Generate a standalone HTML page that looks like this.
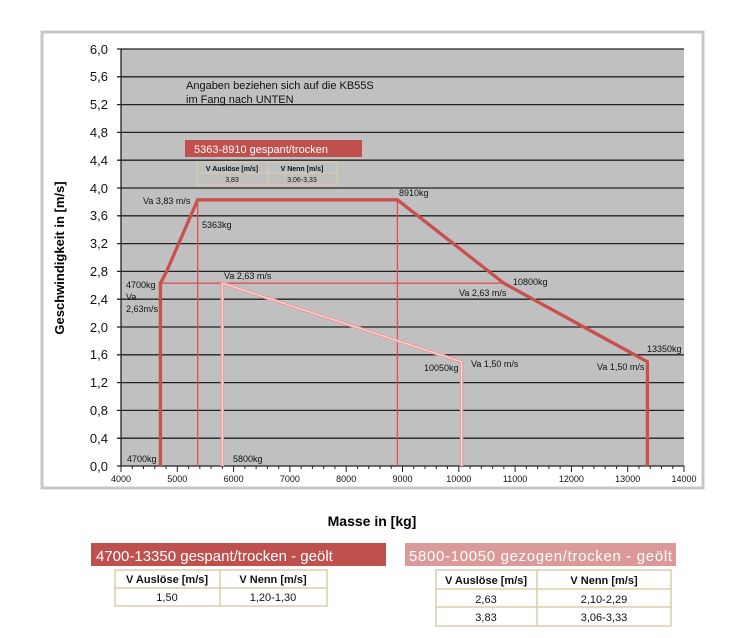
<!DOCTYPE html>
<html><head><meta charset="utf-8"><style>
body{margin:0;background:#fff;width:744px;height:638px;overflow:hidden;font-family:"Liberation Sans",sans-serif}
svg{position:absolute;left:0;top:0}
</style></head><body>
<svg width="744" height="638" viewBox="0 0 744 638" font-family="Liberation Sans, sans-serif">
<rect x="42" y="32" width="661" height="456" fill="#fff" stroke="#c8c8c8" stroke-width="3"/>
<rect x="121" y="49" width="563" height="417" fill="#c0c0c0"/>
<g stroke="#222" stroke-width="1.3">
<line x1="117" y1="466" x2="684" y2="466"/>
<line x1="117" y1="438.2" x2="684" y2="438.2"/>
<line x1="117" y1="410.4" x2="684" y2="410.4"/>
<line x1="117" y1="382.6" x2="684" y2="382.6"/>
<line x1="117" y1="354.8" x2="684" y2="354.8"/>
<line x1="117" y1="327" x2="684" y2="327"/>
<line x1="117" y1="299.2" x2="684" y2="299.2"/>
<line x1="117" y1="271.4" x2="684" y2="271.4"/>
<line x1="117" y1="243.6" x2="684" y2="243.6"/>
<line x1="117" y1="215.8" x2="684" y2="215.8"/>
<line x1="117" y1="188" x2="684" y2="188"/>
<line x1="117" y1="160.2" x2="684" y2="160.2"/>
<line x1="117" y1="132.4" x2="684" y2="132.4"/>
<line x1="117" y1="104.6" x2="684" y2="104.6"/>
<line x1="117" y1="76.8" x2="684" y2="76.8"/>
<line x1="117" y1="49" x2="684" y2="49"/>
<line x1="121" y1="49" x2="121" y2="466"/>
</g>
<g stroke="#222" stroke-width="1" id="ticks"></g>
<g font-size="13" text-anchor="end" fill="#111">
<text x="108" y="471">0,0</text><text x="108" y="443">0,4</text><text x="108" y="415">0,8</text><text x="108" y="387">1,2</text><text x="108" y="359">1,6</text><text x="108" y="332">2,0</text><text x="108" y="304">2,4</text><text x="108" y="276">2,8</text><text x="108" y="248">3,2</text><text x="108" y="220">3,6</text><text x="108" y="193">4,0</text><text x="108" y="165">4,4</text><text x="108" y="137">4,8</text><text x="108" y="109">5,2</text><text x="108" y="81">5,6</text><text x="108" y="54">6,0</text>
</g>
<g font-size="9" text-anchor="middle" fill="#111">
<text x="121" y="482">4000</text><text x="177.3" y="482">5000</text><text x="233.6" y="482">6000</text><text x="289.9" y="482">7000</text><text x="346.2" y="482">8000</text><text x="402.5" y="482">9000</text><text x="458.8" y="482">10000</text><text x="515.1" y="482">11000</text><text x="571.4" y="482">12000</text><text x="627.7" y="482">13000</text><text x="684" y="482">14000</text>
</g>
<text transform="translate(64,258) rotate(-90)" font-size="13" font-weight="bold" text-anchor="middle">Geschwindigkeit in [m/s]</text>
<text x="372" y="526" font-size="14" font-weight="bold" text-anchor="middle">Masse in [kg]</text>
<!-- thin red lines -->
<g stroke="#e05050" stroke-width="1.3" fill="none">
<line x1="197.7" y1="199.8" x2="197.7" y2="466"/>
<line x1="397.4" y1="199.8" x2="397.4" y2="466"/>
<line x1="160.4" y1="283.2" x2="503.8" y2="283.2"/>
</g>
<!-- pink series -->
<polyline points="222.3,466 222.3,283.2 461.6,361.8 461.6,466" fill="none" stroke="#e8a0a0" stroke-width="3.5"/>
<polyline points="222.3,466 222.3,283.2 461.6,361.8 461.6,466" fill="none" stroke="#fbe0e0" stroke-width="1"/>
<!-- main -->
<polyline points="160.4,466 160.4,283.2 166,272.8 197.7,199.8 397.4,199.8 503.8,283.2 647.4,361.8 647.4,466" fill="none" stroke="#c9504d" stroke-width="3.3"/>
<g font-size="9" fill="#111">
<text x="186" y="89" font-size="11">Angaben beziehen sich auf die KB55S</text>
<text x="186" y="103" font-size="11">im Fang nach UNTEN</text>
<text x="143" y="204">Va 3,83 m/s</text>
<text x="202" y="228">5363kg</text>
<text x="399" y="196">8910kg</text>
<text x="126" y="288">4700kg</text>
<text x="126" y="300">Va</text>
<text x="126" y="312">2,63m/s</text>
<text x="224" y="279">Va 2,63 m/s</text>
<text x="513" y="285">10800kg</text>
<text x="459" y="296">Va 2,63 m/s</text>
<text x="647" y="352">13350kg</text>
<text x="597" y="370">Va 1,50 m/s</text>
<text x="471" y="367">Va 1,50 m/s</text>
<text x="424" y="371">10050kg</text>
<text x="127" y="462">4700kg</text>
<text x="233" y="462">5800kg</text>
</g>
<rect x="185" y="140" width="177" height="17" fill="#c0504d"/>
<text x="194" y="153" font-size="11" fill="#fff">5363-8910 gespant/trocken</text>
<g stroke="#d8cfa8" stroke-width="1" fill="none">
<rect x="197" y="162" width="140" height="23"/><line x1="197" y1="173" x2="337" y2="173"/><line x1="268" y1="162" x2="268" y2="185"/>
</g>
<g font-size="7" text-anchor="middle" fill="#111"><text x="232" y="171" font-weight="bold">V Auslöse [m/s]</text><text x="302" y="171" font-weight="bold">V Nenn [m/s]</text><text x="232" y="182">3,83</text><text x="302" y="182">3,06-3,33</text></g>
<!-- bottom legends -->
<rect x="91" y="543" width="295" height="23" fill="#c0504d"/>
<text x="96" y="561" font-size="15" fill="#fff">4700-13350 gespant/trocken - geölt</text>
<rect x="405" y="543" width="271" height="23" fill="#db9a99"/>
<text x="409" y="561" font-size="15" fill="#fff" textLength="263">5800-10050 gezogen/trocken - geölt</text>
<g stroke="#d8cfa8" stroke-width="1.5" fill="#fff">
<rect x="115" y="570" width="212" height="36"/><line x1="115" y1="588" x2="327" y2="588"/><line x1="220" y1="570" x2="220" y2="606"/>
<rect x="436" y="570" width="235" height="56"/><line x1="436" y1="589" x2="671" y2="589"/><line x1="436" y1="607" x2="671" y2="607"/><line x1="537" y1="570" x2="537" y2="626"/>
</g>
<g font-size="11" text-anchor="middle" fill="#111">
<text x="167" y="583" font-weight="bold">V Auslöse [m/s]</text><text x="273" y="583" font-weight="bold">V Nenn [m/s]</text>
<text x="167" y="601">1,50</text><text x="273" y="601">1,20-1,30</text>
<text x="486" y="584" font-weight="bold">V Auslöse [m/s]</text><text x="604" y="584" font-weight="bold">V Nenn [m/s]</text>
<text x="486" y="603">2,63</text><text x="604" y="603">2,10-2,29</text>
<text x="486" y="621">3,83</text><text x="604" y="621">3,06-3,33</text>
</g>
</svg>
<script>
var g=document.getElementById('ticks'),s='';
for(var i=0;i<=50;i++){var x=121+i*11.26;var h=(i%5==0)?6:3;s+='<line x1="'+x+'" y1="466" x2="'+x+'" y2="'+(466+h)+'"/>';}
g.innerHTML=s;
</script>
</body></html>
